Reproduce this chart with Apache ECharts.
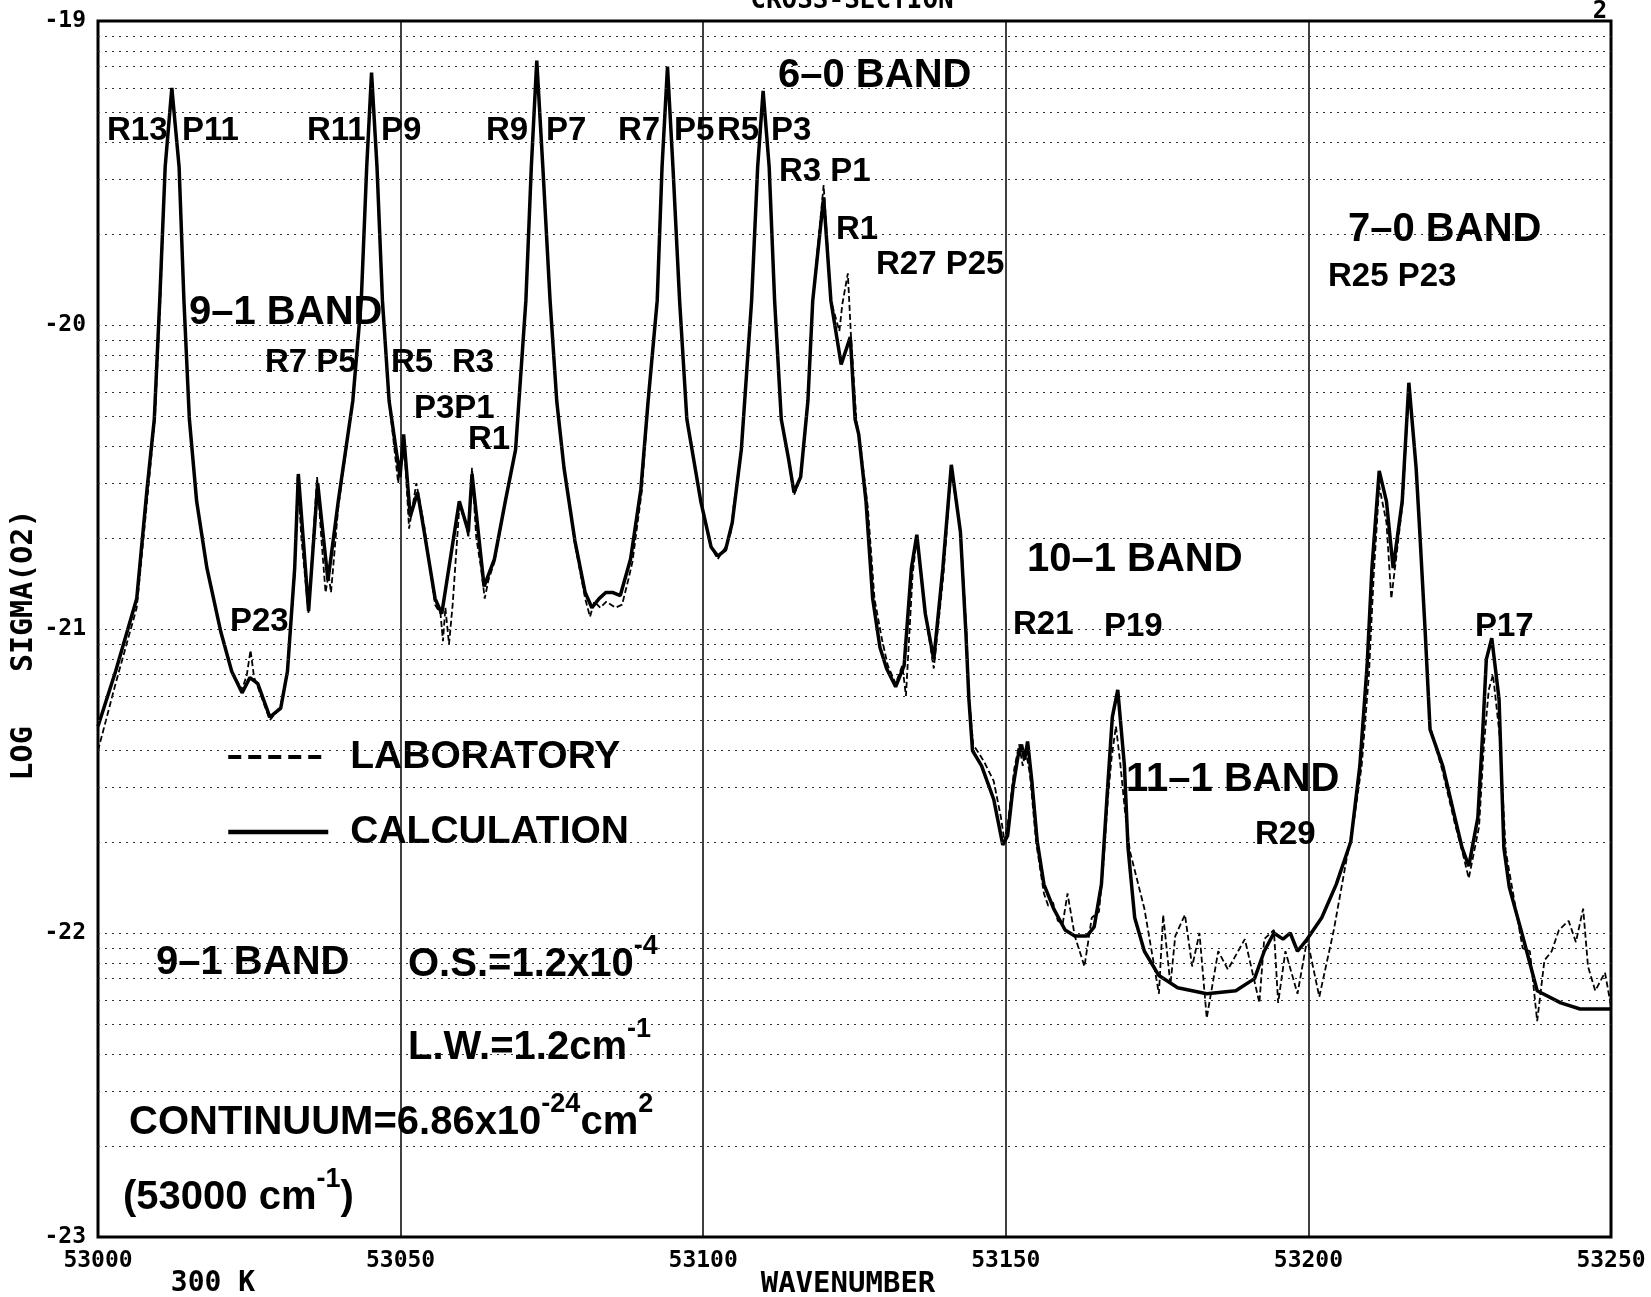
<!DOCTYPE html>
<html>
<head>
<meta charset="utf-8">
<title>O2 absorption cross-section, 53000-53250 cm-1</title>
<script src="https://cdn.jsdelivr.net/npm/echarts@6/dist/echarts.min.js"></script>
<style>
  html, body { margin: 0; padding: 0; background: #fff; }
  #chart { width: 1651px; height: 1297px; }
</style>
</head>
<body>
<div id="chart"></div>
<script>
// Axis ticks
const xTicks = [53000, 53050, 53100, 53150, 53200, 53250];
const yTicks = [-23, -22, -21, -20, -19];

// Calculated spectrum: wavenumber (cm-1) and log10 cross-section
const calcWavenumber = [
  53000.0, 53002.9, 53006.4, 53008.1, 53009.3, 53010.2, 53011.1, 53012.2, 53013.4, 53014.2,
  53015.1, 53016.3, 53018.0, 53020.3, 53022.1, 53023.8, 53025.1, 53026.4, 53028.4, 53030.2,
  53031.3, 53032.5, 53033.1, 53034.8, 53036.3, 53038.0, 53039.7, 53042.1, 53043.5, 53044.4,
  53045.2, 53046.1, 53047.0, 53048.1, 53049.9, 53050.5, 53051.6, 53052.8, 53053.9, 53055.7,
  53056.8, 53059.7, 53061.2, 53061.8, 53063.8, 53065.5, 53067.3, 53069.0, 53070.7, 53071.6,
  53072.5, 53073.5, 53074.7, 53075.8, 53077.0, 53078.8, 53080.5, 53081.6, 53082.8, 53083.9,
  53085.1, 53086.3, 53088.0, 53089.7, 53090.9, 53092.4, 53093.2, 53094.1, 53095.0, 53096.1,
  53097.3, 53099.6, 53101.3, 53102.4, 53103.7, 53104.8, 53106.3, 53108.0, 53109.0, 53109.9,
  53110.9, 53111.8, 53112.9, 53114.1, 53115.0, 53116.1, 53117.3, 53118.1, 53119.9, 53121.1,
  53122.8, 53124.3, 53125.1, 53125.7, 53126.9, 53128.0, 53129.2, 53130.3, 53131.8, 53133.2,
  53134.4, 53135.3, 53136.7, 53138.1, 53139.6, 53141.0, 53142.5, 53143.4, 53143.9, 53144.5,
  53146.0, 53148.0, 53149.5, 53150.3, 53151.2, 53152.0, 53152.6, 53153.1, 53153.6, 53154.3,
  53155.2, 53156.3, 53157.9, 53159.8, 53161.4, 53163.4, 53164.6, 53165.8, 53166.7, 53167.6,
  53168.5, 53169.6, 53170.2, 53171.3, 53172.9, 53175.3, 53178.4, 53183.2, 53188.0, 53191.1,
  53192.7, 53194.3, 53195.8, 53197.0, 53198.2, 53199.8, 53202.2, 53204.6, 53207.0, 53208.5,
  53209.7, 53210.5, 53211.7, 53212.9, 53214.0, 53215.5, 53216.6, 53217.8, 53218.4, 53219.3,
  53220.1, 53222.2, 53224.2, 53225.4, 53226.5, 53228.0, 53228.8, 53229.4, 53230.3, 53231.5,
  53232.3, 53233.2, 53235.4, 53237.8, 53241.7, 53244.9, 53250.0
];
const calcLogSigma = [
  -21.32, -21.14, -20.90, -20.54, -20.31, -19.92, -19.48, -19.22, -19.48, -19.92,
  -20.31, -20.58, -20.80, -21.01, -21.14, -21.21, -21.16, -21.18, -21.29, -21.26,
  -21.14, -20.80, -20.49, -20.94, -20.52, -20.84, -20.58, -20.25, -19.92, -19.48,
  -19.17, -19.48, -19.92, -20.25, -20.50, -20.36, -20.63, -20.55, -20.68, -20.90,
  -20.95, -20.58, -20.68, -20.49, -20.86, -20.77, -20.58, -20.41, -19.92, -19.48,
  -19.13, -19.48, -19.92, -20.25, -20.47, -20.71, -20.88, -20.93, -20.90, -20.88,
  -20.88, -20.89, -20.77, -20.54, -20.25, -19.92, -19.48, -19.15, -19.48, -19.92,
  -20.31, -20.58, -20.73, -20.76, -20.74, -20.65, -20.41, -19.92, -19.48, -19.23,
  -19.48, -19.92, -20.31, -20.44, -20.55, -20.50, -20.25, -19.92, -19.58, -19.92,
  -20.13, -20.04, -20.31, -20.36, -20.58, -20.90, -21.06, -21.13, -21.19, -21.12,
  -20.80, -20.69, -20.95, -21.10, -20.80, -20.46, -20.68, -21.01, -21.23, -21.40,
  -21.45, -21.56, -21.71, -21.68, -21.52, -21.42, -21.38, -21.43, -21.37, -21.50,
  -21.70, -21.84, -21.92, -21.99, -22.01, -22.01, -21.98, -21.84, -21.56, -21.29,
  -21.20, -21.45, -21.72, -21.95, -22.06, -22.14, -22.18, -22.20, -22.19, -22.15,
  -22.06, -22.00, -22.02, -22.00, -22.06, -22.02, -21.95, -21.84, -21.70, -21.45,
  -21.12, -20.80, -20.48, -20.58, -20.80, -20.58, -20.19, -20.47, -20.68, -21.01,
  -21.33, -21.45, -21.62, -21.72, -21.78, -21.62, -21.34, -21.10, -21.03, -21.23,
  -21.72, -21.85, -22.01, -22.19, -22.23, -22.25, -22.25
];

// Laboratory spectrum: wavenumber (cm-1) and log10 cross-section
const labWavenumber = [
  53000.0, 53002.9, 53006.4, 53008.2, 53009.4, 53010.3, 53011.1, 53012.2, 53013.4, 53014.2,
  53015.1, 53016.3, 53018.0, 53020.3, 53022.1, 53023.8, 53024.6, 53025.2, 53025.8, 53026.4,
  53028.4, 53029.6, 53030.2, 53031.3, 53032.5, 53033.0, 53033.6, 53034.8, 53035.4, 53036.2,
  53036.9, 53037.6, 53038.1, 53038.5, 53039.7, 53042.1, 53043.5, 53044.4, 53045.2, 53046.1,
  53047.0, 53048.1, 53049.6, 53050.3, 53050.8, 53051.4, 53052.6, 53053.9, 53055.7, 53056.6,
  53057.0, 53057.4, 53058.0, 53058.6, 53059.7, 53060.7, 53061.2, 53061.8, 53062.5, 53063.3,
  53063.9, 53064.5, 53065.5, 53067.3, 53069.0, 53070.7, 53071.6, 53072.5, 53073.5, 53074.7,
  53075.8, 53077.0, 53078.8, 53080.5, 53081.3, 53082.0, 53083.0, 53084.0, 53085.5, 53086.6,
  53087.6, 53088.3, 53089.9, 53090.9, 53092.4, 53093.2, 53094.1, 53095.0, 53096.1, 53097.3,
  53099.6, 53101.3, 53102.4, 53103.7, 53104.6, 53105.0, 53106.3, 53108.0, 53109.0, 53109.9,
  53110.9, 53111.8, 53112.9, 53114.1, 53115.0, 53116.1, 53117.3, 53118.1, 53119.9, 53121.1,
  53122.5, 53123.0, 53123.9, 53124.4, 53125.3, 53126.0, 53127.2, 53128.3, 53129.5, 53130.5,
  53131.8, 53132.9, 53133.5, 53134.6, 53135.3, 53136.8, 53138.1, 53139.7, 53141.0, 53142.6,
  53143.5, 53143.9, 53144.6, 53145.6, 53146.5, 53148.0, 53149.2, 53149.8, 53150.4, 53151.4,
  53152.2, 53152.8, 53153.3, 53154.0, 53155.0, 53156.3, 53157.0, 53157.8, 53158.6, 53159.4,
  53160.2, 53161.4, 53163.0, 53164.2, 53165.4, 53166.1, 53166.9, 53167.5, 53168.2, 53168.9,
  53169.7, 53170.5, 53172.9, 53175.3, 53176.0, 53177.2, 53178.0, 53179.6, 53180.8, 53182.0,
  53183.2, 53185.1, 53186.7, 53189.5, 53191.9, 53192.7, 53194.3, 53195.0, 53196.2, 53198.2,
  53199.8, 53201.8, 53204.2, 53206.1, 53207.6, 53208.8, 53210.0, 53210.8, 53211.7, 53212.9,
  53213.7, 53214.6, 53215.6, 53216.6, 53217.8, 53218.4, 53219.3, 53220.1, 53222.2, 53224.2,
  53225.4, 53226.5, 53228.2, 53229.0, 53229.8, 53230.5, 53231.6, 53232.6, 53235.4, 53236.6,
  53237.8, 53239.0, 53240.2, 53241.4, 53243.0, 53244.2, 53245.4, 53246.2, 53247.4, 53249.0,
  53250.0
];
const labLogSigma = [
  -21.40, -21.18, -20.93, -20.56, -20.31, -19.92, -19.48, -19.23, -19.48, -19.92,
  -20.31, -20.58, -20.80, -21.01, -21.14, -21.20, -21.15, -21.07, -21.16, -21.19,
  -21.30, -21.27, -21.25, -21.14, -20.82, -20.50, -20.70, -20.95, -20.75, -20.50,
  -20.70, -20.88, -20.82, -20.88, -20.60, -20.25, -19.92, -19.48, -19.18, -19.48,
  -19.92, -20.25, -20.52, -20.40, -20.46, -20.67, -20.52, -20.66, -20.92, -20.95,
  -21.04, -20.93, -21.05, -20.92, -20.60, -20.64, -20.70, -20.47, -20.70, -20.80,
  -20.90, -20.84, -20.78, -20.58, -20.41, -19.92, -19.48, -19.14, -19.48, -19.92,
  -20.25, -20.47, -20.72, -20.90, -20.96, -20.91, -20.93, -20.91, -20.93, -20.92,
  -20.84, -20.78, -20.54, -20.25, -19.92, -19.48, -19.15, -19.48, -19.92, -20.31,
  -20.58, -20.73, -20.77, -20.73, -20.68, -20.60, -20.41, -19.92, -19.48, -19.24,
  -19.48, -19.92, -20.31, -20.44, -20.56, -20.50, -20.25, -19.92, -19.54, -19.92,
  -20.02, -19.93, -19.83, -20.03, -20.31, -20.40, -20.60, -20.90, -21.03, -21.12,
  -21.18, -21.12, -21.22, -20.82, -20.70, -20.96, -21.13, -20.82, -20.47, -20.70,
  -21.01, -21.22, -21.38, -21.41, -21.44, -21.50, -21.62, -21.70, -21.63, -21.46,
  -21.38, -21.45, -21.40, -21.48, -21.70, -21.87, -21.91, -21.90, -21.96, -21.97,
  -21.87, -22.01, -22.11, -21.95, -21.93, -21.78, -21.55, -21.42, -21.32, -21.44,
  -21.60, -21.73, -21.92, -22.20, -21.94, -22.17, -22.01, -21.94, -22.11, -22.00,
  -22.28, -22.06, -22.12, -22.02, -22.23, -22.02, -21.99, -22.23, -22.06, -22.20,
  -22.02, -22.21, -21.99, -21.78, -21.62, -21.45, -21.15, -20.82, -20.53, -20.65,
  -20.90, -20.75, -20.58, -20.20, -20.47, -20.68, -21.01, -21.32, -21.47, -21.64,
  -21.73, -21.82, -21.65, -21.38, -21.20, -21.15, -21.35, -21.73, -22.05, -22.06,
  -22.29, -22.09, -22.06, -21.99, -21.96, -22.03, -21.92, -22.11, -22.19, -22.13,
  -22.24
];

const calcData = calcWavenumber.map((w, i) => [w, calcLogSigma[i]]);
const labData = labWavenumber.map((w, i) => [w, labLogSigma[i]]);

// Dotted log-decade grid: 1..9 x 10^n within each decade
const gridLevels = [];
for (let d = yTicks[0]; d < yTicks[yTicks.length - 1]; d++) {
  for (let k = 1; k <= 9; k++) {
    const v = d + Math.log10(k);
    if (v > yTicks[0] + 1e-9) gridLevels.push(v);
  }
}

const sansBold = "'Liberation Sans', Arial, sans-serif";
const plotter = "'DejaVu Sans Mono', monospace";

// Annotation texts: [text, left x, centre y, font size]
const notes = [
  ['R13', 107, 131, 33], ['P11', 182, 131, 33],
  ['R11', 307, 131, 33], ['P9', 381, 131, 33],
  ['R9', 486, 131, 33], ['P7', 546, 131, 33],
  ['R7', 618, 131, 33], ['P5', 674, 131, 33],
  ['R5', 717, 131, 33], ['P3', 771, 131, 33],
  ['6\u20130 BAND', 778, 76, 40],
  ['R3 P1', 779, 172, 33],
  ['R1', 836, 230, 33],
  ['R27 P25', 876, 265, 33],
  ['9\u20131 BAND', 189, 313, 40],
  ['R7 P5', 265, 363, 33],
  ['R5', 391, 363, 33], ['R3', 452, 363, 33],
  ['P3P1', 414, 409, 33],
  ['R1', 468, 440, 33],
  ['P23', 230, 622, 33],
  ['7\u20130 BAND', 1348, 230, 40],
  ['R25 P23', 1328, 277, 33],
  ['10\u20131 BAND', 1027, 560, 40],
  ['R21', 1013, 625, 33],
  ['P19', 1104, 627, 33],
  ['P17', 1475, 627, 33],
  ['11\u20131 BAND', 1126, 780, 40],
  ['R29', 1255, 835, 33],
  ['9\u20131 BAND', 156, 963, 40],
  ['O.S.=1.2x10{s|-4}', 408, 965, 40],
  ['L.W.=1.2cm{s|-1}', 408, 1048, 40],
  ['CONTINUUM=6.86x10{s|-24}cm{s|2}', 129, 1123, 40],
  ['(53000 cm{s|-1})', 123, 1198, 40]
];

const noteGraphics = notes.map(([text, x, y, size]) => ({
  type: 'text',
  x: x,
  y: y,
  z: 20,
  silent: true,
  style: {
    text: text,
    fontFamily: sansBold,
    fontWeight: 'bold',
    fontSize: size,
    fill: '#000',
    align: 'left',
    verticalAlign: 'middle',
    lineHeight: 64,
    rich: {
      s: { fontFamily: sansBold, fontWeight: 'bold', fontSize: 27, lineHeight: 27, verticalAlign: 'top', fill: '#000' }
    }
  }
}));

const frameTexts = [
  { type: 'text', x: 852, y: 1, silent: true,
    style: { text: 'CROSS-SECTION', fontFamily: plotter, fontWeight: 'bold', fontSize: 26, fill: '#000', align: 'center', verticalAlign: 'middle' } },
  { type: 'text', x: 1600, y: 12, silent: true,
    style: { text: '2', fontFamily: plotter, fontWeight: 'bold', fontSize: 24, fill: '#000', align: 'center', verticalAlign: 'middle' } },
  { type: 'text', x: 848, y: 1284, silent: true,
    style: { text: 'WAVENUMBER', fontFamily: plotter, fontWeight: 'bold', fontSize: 29, fill: '#000', align: 'center', verticalAlign: 'middle' } },
  { type: 'text', x: 213, y: 1284, silent: true,
    style: { text: '300 K', fontFamily: plotter, fontWeight: 'bold', fontSize: 28, fill: '#000', align: 'center', verticalAlign: 'middle' } },
  { type: 'text', x: 24, y: 645, rotation: Math.PI / 2, silent: true,
    style: { text: 'LOG   SIGMA(O2)', fontFamily: plotter, fontWeight: 'bold', fontSize: 30, fill: '#000', align: 'center', verticalAlign: 'middle' } }
];

const chart = echarts.init(document.getElementById('chart'), null, { renderer: 'canvas' });

chart.setOption({
  animation: false,
  backgroundColor: '#fff',
  color: ['#000', '#000'],
  grid: {
    left: 98, right: 40, top: 21, bottom: 60,
    show: true, borderColor: '#000', borderWidth: 3, containLabel: false
  },
  xAxis: {
    type: 'value',
    min: xTicks[0],
    max: xTicks[xTicks.length - 1],
    interval: 50,
    axisLine: { show: false },
    axisTick: { show: false },
    axisLabel: {
      margin: 13,
      fontFamily: plotter, fontWeight: 'bold', fontSize: 23, color: '#000',
      formatter: v => (xTicks.includes(v) ? String(v) : '')
    },
    splitLine: { show: true, lineStyle: { color: '#000', width: 1.5 } }
  },
  yAxis: {
    type: 'value',
    min: yTicks[0],
    max: yTicks[yTicks.length - 1],
    interval: 1,
    axisLine: { show: false },
    axisTick: { show: false },
    axisLabel: {
      margin: 12,
      fontFamily: plotter, fontWeight: 'bold', fontSize: 23, color: '#000',
      formatter: v => (yTicks.includes(v) ? String(v) : '')
    },
    splitLine: { show: false }
  },
  legend: {
    data: [
      { name: 'LABORATORY', lineStyle: { type: [13, 7], width: 4, color: '#000' }, itemStyle: { opacity: 0 } },
      { name: 'CALCULATION', lineStyle: { width: 4.5, color: '#000' }, itemStyle: { opacity: 0 } }
    ],
    orient: 'vertical',
    left: 221,
    top: 732,
    itemWidth: 100,
    itemHeight: 20,
    itemGap: 35,
    selectedMode: false,
    itemStyle: { opacity: 0 },
    textStyle: {
      fontFamily: sansBold, fontWeight: 'bold', fontSize: 39, color: '#000',
      lineHeight: 40, padding: [0, 0, 0, 17]
    }
  },
  graphic: frameTexts.concat(noteGraphics),
  series: [
    {
      name: 'LABORATORY',
      type: 'line',
      data: labData,
      symbol: 'none',
      smooth: false,
      z: 3,
      itemStyle: { color: '#000' },
      lineStyle: { color: '#000', width: 1.8, type: [6, 3] },
      markLine: {
        silent: true,
        symbol: 'none',
        label: { show: false },
        lineStyle: { color: '#333', width: 1, type: [2, 5] },
        data: gridLevels.map(v => ({ yAxis: v }))
      }
    },
    {
      name: 'CALCULATION',
      type: 'line',
      data: calcData,
      symbol: 'none',
      smooth: false,
      z: 4,
      itemStyle: { color: '#000' },
      lineStyle: { color: '#000', width: 3.5, type: 'solid' }
    }
  ]
});
</script>
</body>
</html>
